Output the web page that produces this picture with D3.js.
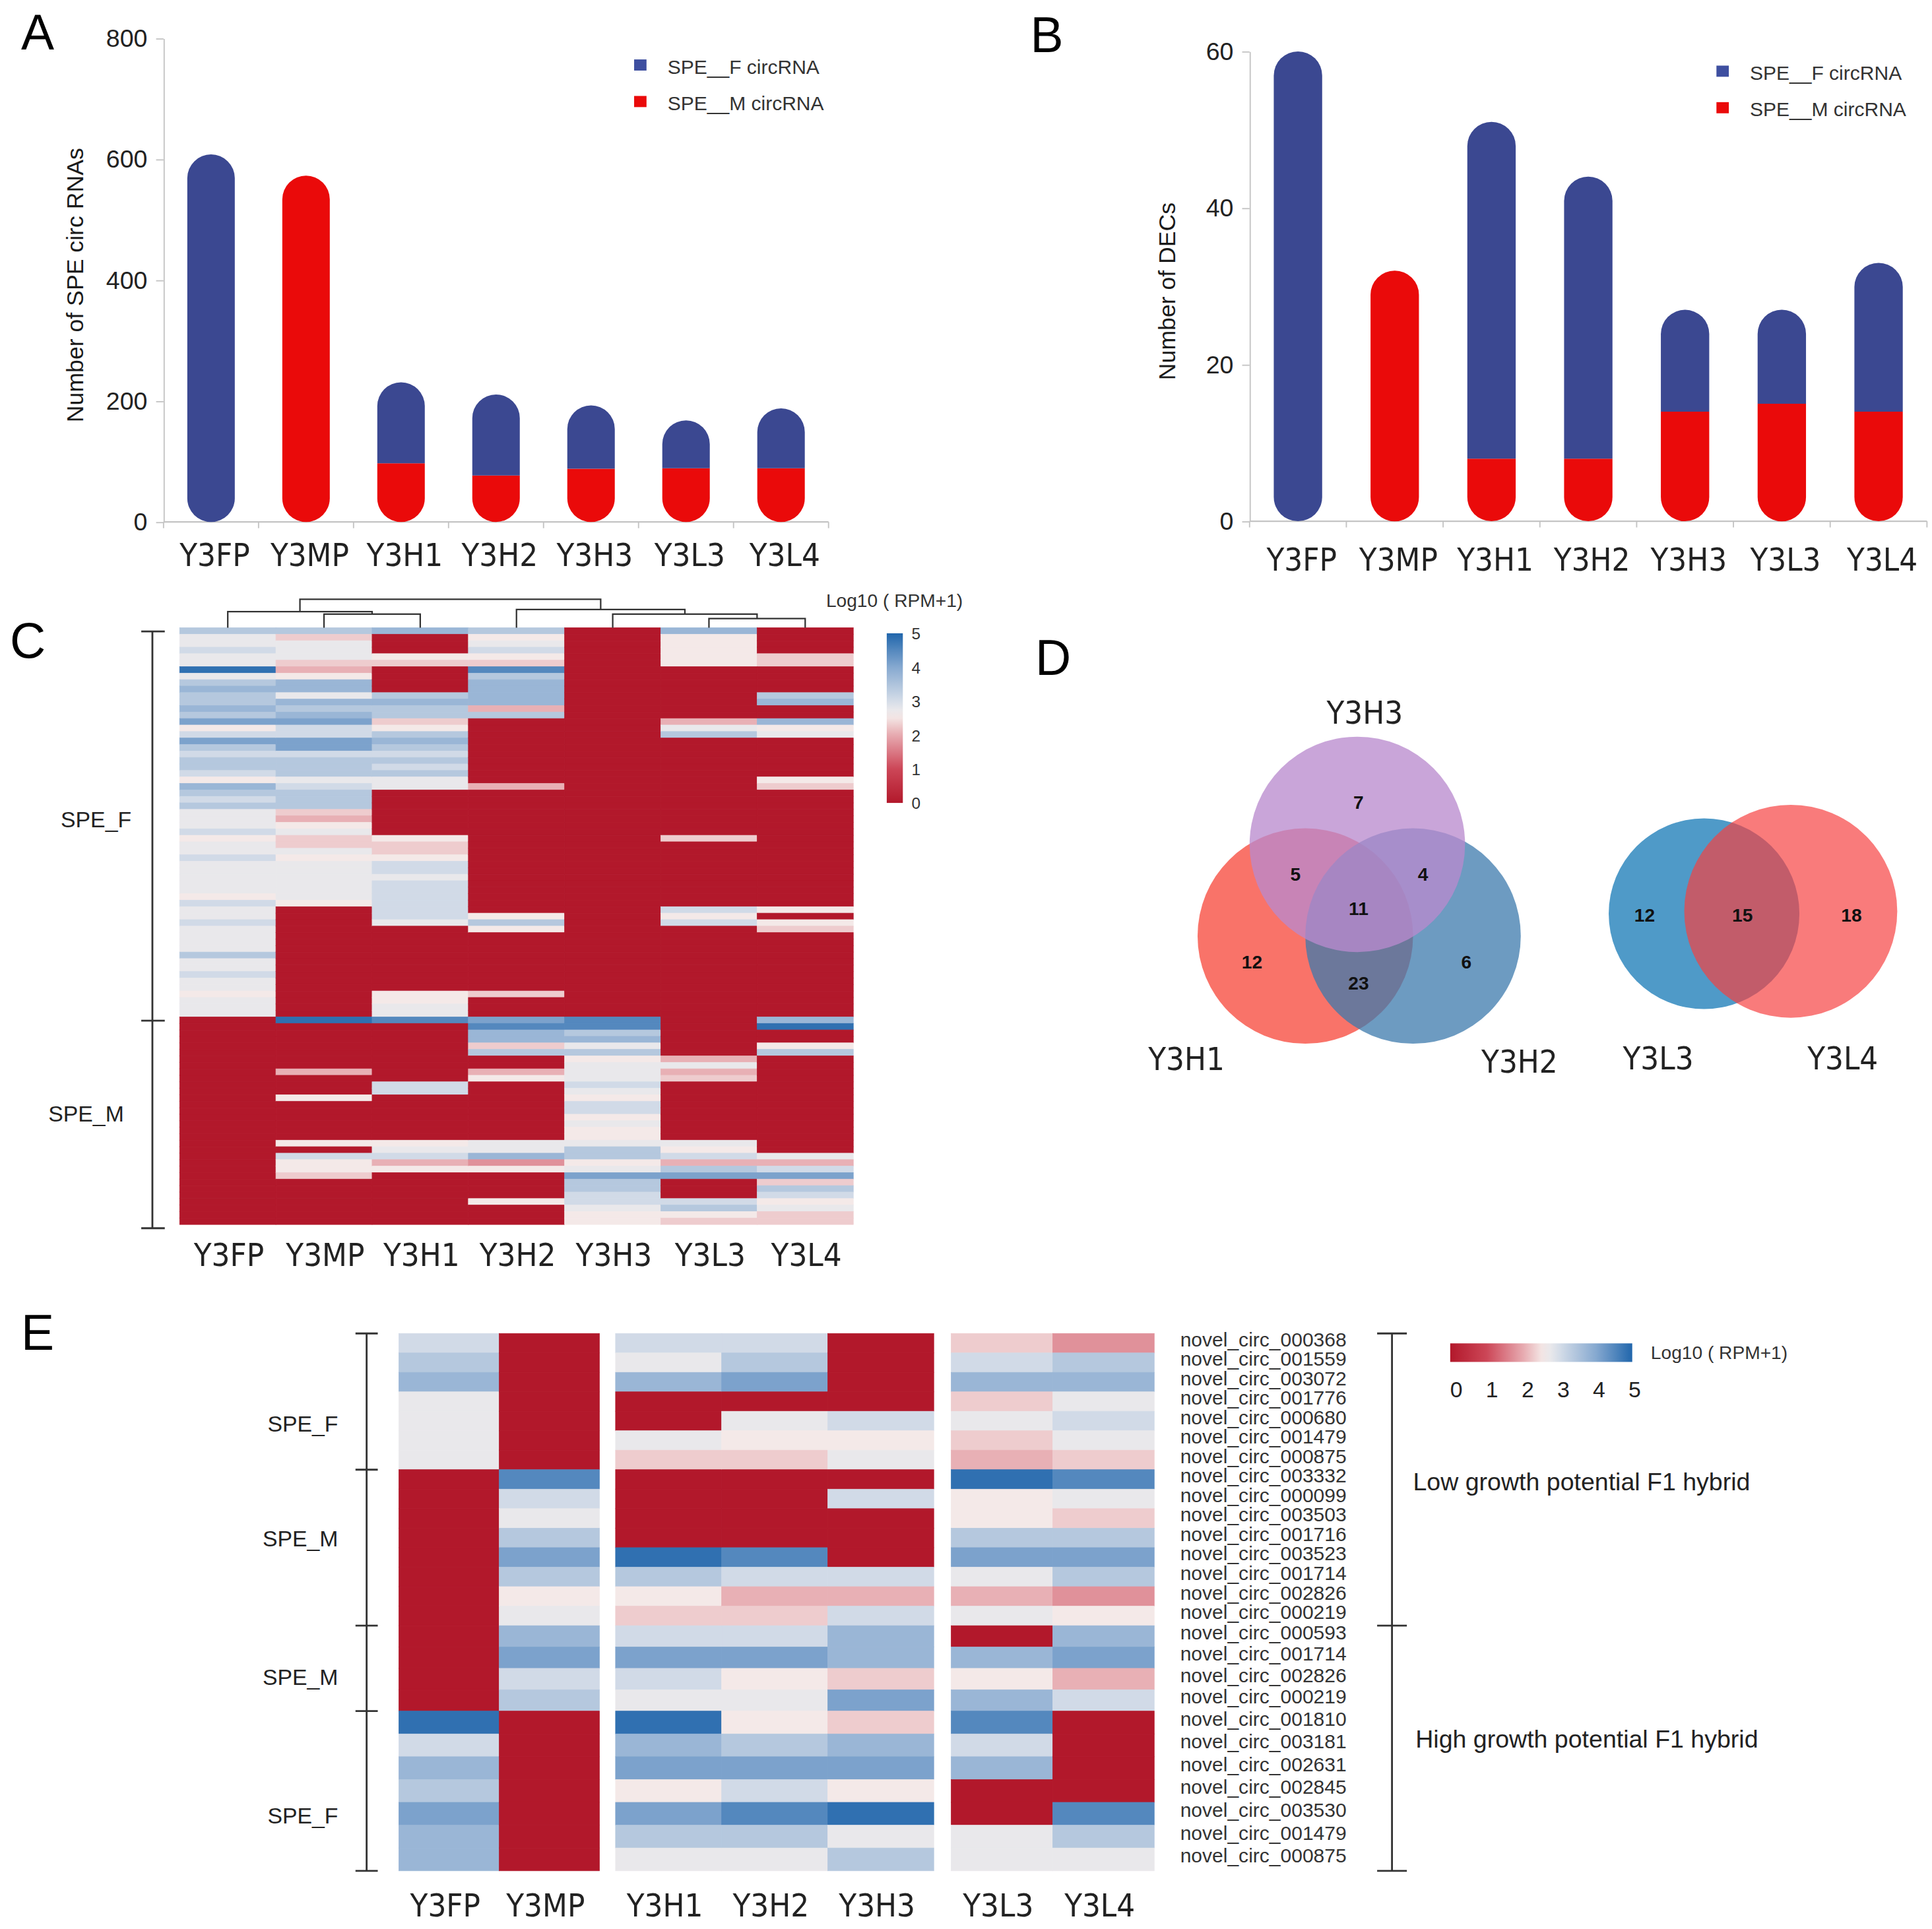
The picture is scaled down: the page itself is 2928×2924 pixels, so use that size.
<!DOCTYPE html>
<html>
<head>
<meta charset="utf-8">
<title>SPE circRNA figure</title>
<style>
  body { margin: 0; background: #fff; }
</style>
</head>
<body>
<script src="https://d3js.org/d3.v7.min.js"></script>
<script>
var samples = ['Y3FP', 'Y3MP', 'Y3H1', 'Y3H2', 'Y3H3', 'Y3L3', 'Y3L4'];

// A: number of SPE circRNAs per sample
var speF_A = [608, 0, 134, 134, 105, 79, 99];
var speM_A = [0, 573, 97, 77, 88, 89, 89];
var ticksA = [0, 200, 400, 600, 800];

// B: number of DECs per sample
var speF_B = [60, 0, 43, 36, 13, 12, 19];
var speM_B = [0, 32, 8, 8, 14, 15, 14];
var ticksB = [0, 20, 40, 60];

var legendItems = ['SPE__F circRNA', 'SPE__M circRNA'];

// heatmap level codes -> Log10(RPM+1)
var levels = {'0': 0, '1': 1.75, '2': 2.05, '3': 2.3, '4': 2.55, '5': 2.75,
              '6': 3.05, '7': 3.4, '8': 3.75, '9': 4.1, 'a': 4.5, 'b': 4.85};
var colorTicks = [0, 1, 2, 3, 4, 5];

// C: one string per sample, one char per circRNA (60 SPE_F rows, 32 SPE_M rows)
var heatC_F = [
  '755655b578 7787946976 7764876755 5645565555 5465565555 7556554555',
  '7355532488 5878966996 7775677732 4533545555 5540000000 0000000000',
  '8000430000 7877347876 7675500000 0043346656 6666650000 0000004455',
  '745643a788 8827000000 0000200000 0000000000 0000474000 0000003000',
  '0000000000 0000000000 0000000000 0000000000 0000000000 0000000000',
  '8444440000 0000257000 0000000000 0030000000 0006460000 0000000000',
  '0000330000 7800845000 0004300000 0000000000 0004043000 0000000000'
];
var heatC_M = [
  '0000000000 0000000000 0000000000 00',
  'b000000020 0040000004 0644300000 00',
  'a000000000 6600000004 5624000000 00',
  '9a88370024 0000000005 5814000040 00',
  'aa78574555 6546645445 7745977665 44',
  '0000002523 0000000005 4627900067 43',
  '8b00470000 0000000000 0526937645 33'
];
var groupsC = ['SPE_F', 'SPE_M'];
var groupSizesC = [60, 32];

// dendrogram over the samples (merge heights)
var dendro = {h: 1, children: [
  {h: 0.565, children: [{name: 'Y3FP'}, {h: 0.478, children: [{name: 'Y3MP'}, {name: 'Y3H1'}]}]},
  {h: 0.64, children: [{name: 'Y3H2'}, {h: 0.478, children: [{name: 'Y3H3'},
    {h: 0.32, children: [{name: 'Y3L3'}, {name: 'Y3L4'}]}]}]}
]};

// D: Venn counts
var vennSets3 = ['Y3H1', 'Y3H2', 'Y3H3'];
// H1 only, H2 only, H3 only, H1&H2, H1&H3, H2&H3, all three
var vennCounts3 = [12, 6, 7, 23, 5, 4, 11];
var vennSets2 = ['Y3L3', 'Y3L4'];
// L3 only, both, L4 only
var vennCounts2 = [12, 15, 18];

// E: selected circRNAs
var rowsE = ['novel_circ_000368', 'novel_circ_001559', 'novel_circ_003072', 'novel_circ_001776',
  'novel_circ_000680', 'novel_circ_001479', 'novel_circ_000875', 'novel_circ_003332',
  'novel_circ_000099', 'novel_circ_003503', 'novel_circ_001716', 'novel_circ_003523',
  'novel_circ_001714', 'novel_circ_002826', 'novel_circ_000219', 'novel_circ_000593',
  'novel_circ_001714', 'novel_circ_002826', 'novel_circ_000219', 'novel_circ_001810',
  'novel_circ_003181', 'novel_circ_002631', 'novel_circ_002845', 'novel_circ_003530',
  'novel_circ_001479', 'novel_circ_000875'];
var heatE = [
  '6785555000 000000000b 687988',
  '0000000a65 7974589670 000000',
  '6580053000 0b7436965b 894975',
  '6790543000 0a62369454 796a75',
  '0000645060 0062688393 894b57',
  '3683532b44 795250848a 680055',
  '1785653a53 7971489260 000a75'
];
var groupsE = ['SPE_F', 'SPE_M', 'SPE_M', 'SPE_F'];
var groupSizesE = [7, 8, 4, 7];
var blocksE = [['Y3FP', 'Y3MP'], ['Y3H1', 'Y3H2', 'Y3H3'], ['Y3L3', 'Y3L4']];
var hybridLabels = ['Low growth potential F1 hybrid', 'High growth potential F1 hybrid'];

var FONT = '"Liberation Sans", Arial, sans-serif';
var CAT = '"DejaVu Sans Condensed", "DejaVu Sans", sans-serif';
var BLUE = '#3b4891', RED = '#ea0a0a';

var svg = d3.select('body').append('svg')
  .attr('width', 2928).attr('height', 2924)
  .attr('viewBox', '0 0 1560 1558')
  .style('font-family', FONT);
svg.append('rect').attr('width', 1560).attr('height', 1558).attr('fill', '#fff');

var color = d3.scaleLinear()
  .domain([0, 1, 2, 2.6, 3, 4, 5])
  .range(['#b2182b', '#cc4657', '#e7aab0', '#f5efed', '#d5dde8', '#86a9d0', '#2166ac']);

var defs = svg.append('defs');
function gradient(id, x2, y1) {
  var g = defs.append('linearGradient').attr('id', id)
    .attr('x1', 0).attr('y1', y1).attr('x2', x2).attr('y2', 0);
  g.selectAll('stop').data(d3.range(0, 5.01, 0.25)).join('stop')
    .attr('offset', function(d) { return d / 5; })
    .attr('stop-color', function(d) { return color(d); });
}
gradient('gradV', 0, 1);
gradient('gradH', 1, 0);

// panel letters
var letters = [['A', 17, 40], ['B', 832, 42], ['C', 8, 531], ['D', 836, 545], ['E', 17, 1090]];
svg.selectAll('text.letter').data(letters).join('text')
  .attr('class', 'letter')
  .attr('x', function(d) { return d[1]; }).attr('y', function(d) { return d[2]; })
  .attr('font-size', 40).attr('fill', '#000')
  .text(function(d) { return d[0]; });

// ---------- bar panels ----------
function pill(x, w, yT, yB, rT, rB) {
  var r = w / 2, p = d3.path();
  if (rT) { p.moveTo(x, yT + r); p.arc(x + r, yT + r, r, Math.PI, 0); }
  else { p.moveTo(x, yT); p.lineTo(x + w, yT); }
  if (rB) { p.lineTo(x + w, yB - r); p.arc(x + r, yB - r, r, 0, Math.PI); }
  else { p.lineTo(x + w, yB); p.lineTo(x, yB); }
  p.closePath();
  return p.toString();
}

function barPanel(fVals, mVals, ticks, x, y, title, titleX, labelY, legX, legY) {
  var g = svg.append('g');
  var data = samples.map(function(s, i) { return {s: s, f: fVals[i], m: mVals[i]}; });
  var bw = x.bandwidth();

  var ax = g.append('g').attr('transform', 'translate(' + x.range()[0] + ',0)')
    .call(d3.axisLeft(y).tickValues(ticks).tickSize(6).tickSizeOuter(0).tickPadding(7));
  ax.attr('font-size', 20).attr('font-family', FONT);
  ax.select('.domain').attr('stroke', '#c4c4c4');
  ax.selectAll('.tick line').attr('stroke', '#c4c4c4');
  ax.selectAll('.tick text').attr('fill', '#222');

  var y0 = y(0), x0 = x.range()[0], x1 = x.range()[1];
  g.append('line').attr('x1', x0).attr('x2', x1).attr('y1', y0).attr('y2', y0)
    .attr('stroke', '#c4c4c4').attr('stroke-width', 1.2);
  g.selectAll('line.xt').data(d3.range(samples.length + 1)).join('line')
    .attr('class', 'xt')
    .attr('x1', function(i) { return x0 + i * x.step(); })
    .attr('x2', function(i) { return x0 + i * x.step(); })
    .attr('y1', y0).attr('y2', y0 + 5)
    .attr('stroke', '#c4c4c4');

  g.selectAll('path.m').data(data.filter(function(d) { return d.m > 0; })).join('path')
    .attr('class', 'm')
    .attr('d', function(d) { return pill(x(d.s), bw, y(d.m), y0, d.f === 0, true); })
    .attr('fill', RED);
  g.selectAll('path.f').data(data.filter(function(d) { return d.f > 0; })).join('path')
    .attr('class', 'f')
    .attr('d', function(d) { return pill(x(d.s), bw, y(d.m + d.f), y(d.m), true, d.m === 0); })
    .attr('fill', BLUE);

  g.selectAll('text.cat').data(samples).join('text')
    .attr('class', 'cat')
    .attr('x', function(d) { return x(d) + bw / 2 + 3; })
    .attr('y', labelY)
    .attr('text-anchor', 'middle').attr('font-family', CAT).attr('font-size', 26).attr('fill', '#222')
    .text(function(d) { return d; });

  var mid = (y(ticks[ticks.length - 1]) + y0) / 2;
  g.append('text')
    .attr('transform', 'translate(' + titleX + ',' + (mid + 4) + ') rotate(-90)')
    .attr('text-anchor', 'middle').attr('font-size', 19).attr('fill', '#1a1a1a')
    .text(title);

  var lg = g.selectAll('g.leg').data(legendItems).join('g')
    .attr('class', 'leg')
    .attr('transform', function(d, i) { return 'translate(' + legX + ',' + (legY + i * 29.5) + ')'; });
  lg.append('rect').attr('x', 0).attr('y', -6).attr('width', 10).attr('height', 9)
    .attr('fill', function(d, i) { return i ? RED : '#3e4fa0'; });
  lg.append('text').attr('x', 27).attr('y', 5.5).attr('font-size', 16).attr('fill', '#333')
    .text(function(d) { return d; });
}

var xA = d3.scaleBand().domain(samples).range([132, 669]).paddingInner(0.5).paddingOuter(0.25);
var yA = d3.scaleLinear().domain([0, 800]).range([421.6, 31]);
barPanel(speF_A, speM_A, ticksA, xA, yA, 'Number of SPE circ RNAs', 67, 457, 512, 54);

var xB = d3.scaleBand().domain(samples).range([1009, 1556]).paddingInner(0.5).paddingOuter(0.25);
var yB = d3.scaleLinear().domain([0, 60]).range([421, 41.5]);
barPanel(speF_B, speM_B, ticksB, xB, yB, 'Number of DECs', 949, 461, 1386, 59);

// ---------- C: clustered heatmap ----------
var gC = svg.append('g');
var xC = d3.scaleBand().domain(samples).range([145, 689]);
var nC = d3.sum(groupSizesC);
var yC = d3.scaleLinear().domain([0, nC]).range([507, 989]);
var cellsC = [];
samples.forEach(function(s, j) {
  (heatC_F[j] + heatC_M[j]).replace(/ /g, '').split('').forEach(function(ch, i) {
    cellsC.push({s: s, i: i, v: levels[ch]});
  });
});
gC.selectAll('rect.cell').data(cellsC).join('rect')
  .attr('class', 'cell')
  .attr('x', function(d) { return xC(d.s); })
  .attr('y', function(d) { return yC(d.i); })
  .attr('width', xC.bandwidth())
  .attr('height', yC(1) - yC(0))
  .attr('fill', function(d) { return color(d.v); })
  .attr('stroke', function(d) { return color(d.v); })
  .attr('stroke-width', 0.4);

// dendrogram
var root = d3.hierarchy(dendro);
var yD = d3.scaleLinear().domain([0, 1]).range([507, 484]);
root.eachAfter(function(n) {
  if (n.children) {
    n.px = d3.mean(n.children, function(c) { return c.px; });
    n.py = yD(n.data.h);
  } else {
    n.px = xC(n.data.name) + xC.bandwidth() / 2;
    n.py = yD(0);
  }
});
gC.selectAll('path.dend').data(root.descendants().filter(function(n) { return n.children; })).join('path')
  .attr('class', 'dend')
  .attr('d', function(n) {
    var a = n.children[0], b = n.children[1];
    return 'M' + a.px + ',' + a.py + 'V' + n.py + 'H' + b.px + 'V' + b.py;
  })
  .attr('fill', 'none').attr('stroke', '#333').attr('stroke-width', 1.2);

gC.selectAll('text.cat').data(samples).join('text')
  .attr('class', 'cat')
  .attr('x', function(d) { return xC(d) + xC.bandwidth() / 2 + 1; })
  .attr('y', 1022.5)
  .attr('text-anchor', 'middle').attr('font-family', CAT).attr('font-size', 26).attr('fill', '#222')
  .text(function(d) { return d; });

// group bracket
var cumC = [0, groupSizesC[0], nC];
gC.append('line').attr('x1', 123).attr('x2', 123).attr('y1', yC(0) + 3).attr('y2', yC(nC) + 3)
  .attr('stroke', '#333').attr('stroke-width', 1.5);
gC.selectAll('line.bt').data(cumC).join('line')
  .attr('class', 'bt')
  .attr('x1', 114).attr('x2', 133)
  .attr('y1', function(d) { return yC(d) + 3; }).attr('y2', function(d) { return yC(d) + 3; })
  .attr('stroke', '#333').attr('stroke-width', 1.5);
var groupLabC = [[106, 668], [100, 906]];
gC.selectAll('text.grp').data(groupsC).join('text')
  .attr('class', 'grp')
  .attr('x', function(d, i) { return groupLabC[i][0]; })
  .attr('y', function(d, i) { return groupLabC[i][1]; })
  .attr('text-anchor', 'end').attr('font-size', 18).attr('fill', '#222')
  .text(function(d) { return d; });

// colour bar
var cbY = d3.scaleLinear().domain([0, 5]).range([648.5, 511.5]);
gC.append('rect').attr('x', 716).attr('y', cbY(5)).attr('width', 13).attr('height', cbY(0) - cbY(5))
  .attr('fill', 'url(#gradV)');
gC.selectAll('text.cb').data(colorTicks).join('text')
  .attr('class', 'cb')
  .attr('x', 736).attr('y', function(d) { return cbY(d) + 5; })
  .attr('font-size', 13).attr('fill', '#333')
  .text(function(d) { return d; });
gC.append('text').attr('x', 667).attr('y', 490).attr('font-size', 15).attr('fill', '#333')
  .text('Log10 ( RPM+1)');

// ---------- D: Venn diagrams ----------
var gD = svg.append('g').attr('transform', 'translate(-4,-2)');
var circles3 = [
  {set: vennSets3[0], cx: 1058, cy: 758, r: 87, fill: '#f74437', op: 0.75},
  {set: vennSets3[1], cx: 1145, cy: 758, r: 87, fill: '#3c7aac', op: 0.75},
  {set: vennSets3[2], cx: 1100, cy: 684, r: 87, fill: '#b98ace', op: 0.77}
];
var circles2 = [
  {set: vennSets2[0], cx: 1380, cy: 740, r: 77, fill: '#4f9ac8', op: 1},
  {set: vennSets2[1], cx: 1450, cy: 738, r: 86, fill: '#f64040', op: 0.69}
];
gD.selectAll('circle').data(circles3.concat(circles2)).join('circle')
  .attr('cx', function(d) { return d.cx; }).attr('cy', function(d) { return d.cy; })
  .attr('r', function(d) { return d.r; })
  .attr('fill', function(d) { return d.fill; }).attr('fill-opacity', function(d) { return d.op; });

var regionPos3 = [[1015, 779], [1188, 779], [1101, 650], [1101, 796], [1050, 708], [1153, 708], [1101, 736]];
var regionPos2 = [[1332, 741], [1411, 741], [1499, 741]];
var counts = vennCounts3.map(function(c, i) { return {c: c, p: regionPos3[i]}; })
  .concat(vennCounts2.map(function(c, i) { return {c: c, p: regionPos2[i]}; }));
gD.selectAll('text.cnt').data(counts).join('text')
  .attr('class', 'cnt')
  .attr('x', function(d) { return d.p[0]; }).attr('y', function(d) { return d.p[1] + 5.3; })
  .attr('text-anchor', 'middle').attr('font-size', 15).attr('font-weight', 'bold').attr('fill', '#111')
  .text(function(d) { return d.c; });

var setLabPos = [[962, 866.5], [1231, 868.5], [1106, 586.5], [1343, 865.5], [1492, 865.5]];
gD.selectAll('text.setlab').data(vennSets3.concat(vennSets2)).join('text')
  .attr('class', 'setlab')
  .attr('x', function(d, i) { return setLabPos[i][0]; }).attr('y', function(d, i) { return setLabPos[i][1]; })
  .attr('text-anchor', 'middle').attr('font-family', CAT).attr('font-size', 26).attr('fill', '#222')
  .text(function(d) { return d; });

// ---------- E: selected circRNA heatmap ----------
var gE = svg.append('g');
var cumE = [0];
groupSizesE.forEach(function(n) { cumE.push(cumE[cumE.length - 1] + n); });
var yE = d3.scaleLinear().domain(cumE).range([1077, 1187, 1313, 1382, 1511]);
var blockRanges = [[322, 484], [497, 754], [768, 932]];
var xE = {};
blocksE.forEach(function(b, k) {
  var sc = d3.scaleBand().domain(b).range(blockRanges[k]);
  b.forEach(function(s) { xE[s] = {x: sc(s), w: sc.bandwidth()}; });
});
var cellsE = [];
samples.forEach(function(s, j) {
  heatE[j].replace(/ /g, '').split('').forEach(function(ch, i) {
    cellsE.push({s: s, i: i, v: levels[ch]});
  });
});
gE.selectAll('rect.cell').data(cellsE).join('rect')
  .attr('class', 'cell')
  .attr('x', function(d) { return xE[d.s].x; })
  .attr('y', function(d) { return yE(d.i); })
  .attr('width', function(d) { return xE[d.s].w; })
  .attr('height', function(d) { return yE(d.i + 1) - yE(d.i); })
  .attr('fill', function(d) { return color(d.v); })
  .attr('stroke', function(d) { return color(d.v); })
  .attr('stroke-width', 0.4);

gE.selectAll('text.row').data(rowsE).join('text')
  .attr('class', 'row')
  .attr('x', 953)
  .attr('y', function(d, i) { return (yE(i) + yE(i + 1)) / 2 + 2.5; })
  .attr('font-size', 16).attr('fill', '#333')
  .text(function(d) { return d; });

gE.selectAll('text.cat').data(samples).join('text')
  .attr('class', 'cat')
  .attr('x', function(d) { return xE[d].x + xE[d].w / 2 - 3; })
  .attr('y', 1548)
  .attr('text-anchor', 'middle').attr('font-family', CAT).attr('font-size', 26).attr('fill', '#222')
  .text(function(d) { return d; });

// left bracket
gE.append('line').attr('x1', 296).attr('x2', 296).attr('y1', yE(0)).attr('y2', yE(cumE[4]))
  .attr('stroke', '#333').attr('stroke-width', 1.5);
gE.selectAll('line.bt').data(cumE).join('line')
  .attr('class', 'bt')
  .attr('x1', 287).attr('x2', 305)
  .attr('y1', function(d) { return yE(d); }).attr('y2', function(d) { return yE(d); })
  .attr('stroke', '#333').attr('stroke-width', 1.5);
var groupLabE = [1156, 1249, 1361, 1473];
gE.selectAll('text.grp').data(groupsE).join('text')
  .attr('class', 'grp')
  .attr('x', 273).attr('y', function(d, i) { return groupLabE[i]; })
  .attr('text-anchor', 'end').attr('font-size', 18).attr('fill', '#222')
  .text(function(d) { return d; });

// right bracket
var hyb = [0, cumE[2], cumE[4]];
gE.append('line').attr('x1', 1124).attr('x2', 1124).attr('y1', yE(0)).attr('y2', yE(cumE[4]))
  .attr('stroke', '#333').attr('stroke-width', 1.5);
gE.selectAll('line.rt').data(hyb).join('line')
  .attr('class', 'rt')
  .attr('x1', 1112).attr('x2', 1136)
  .attr('y1', function(d) { return yE(d); }).attr('y2', function(d) { return yE(d); })
  .attr('stroke', '#333').attr('stroke-width', 1.5);
var hybY = [1203.5, 1411.5];
gE.selectAll('text.hyb').data(hybridLabels).join('text')
  .attr('class', 'hyb')
  .attr('x', function(d, i) { return 1141 + i * 2; }).attr('y', function(d, i) { return hybY[i]; })
  .attr('font-size', 20).attr('fill', '#222')
  .text(function(d) { return d; });

// horizontal colour bar
var cbX = d3.scaleLinear().domain([0, 5]).range([1171, 1318]);
var cbLab = d3.scaleLinear().domain([0, 5]).range([1176, 1320]);
gE.append('rect').attr('x', cbX(0)).attr('y', 1085).attr('width', cbX(5) - cbX(0)).attr('height', 15)
  .attr('fill', 'url(#gradH)');
gE.selectAll('text.cb').data(colorTicks).join('text')
  .attr('class', 'cb')
  .attr('x', function(d) { return cbLab(d); }).attr('y', 1128.5)
  .attr('text-anchor', 'middle').attr('font-size', 18).attr('fill', '#222')
  .text(function(d) { return d; });
gE.append('text').attr('x', 1333).attr('y', 1097.5).attr('font-size', 15).attr('fill', '#333')
  .text('Log10 ( RPM+1)');
</script>
</body>
</html>
